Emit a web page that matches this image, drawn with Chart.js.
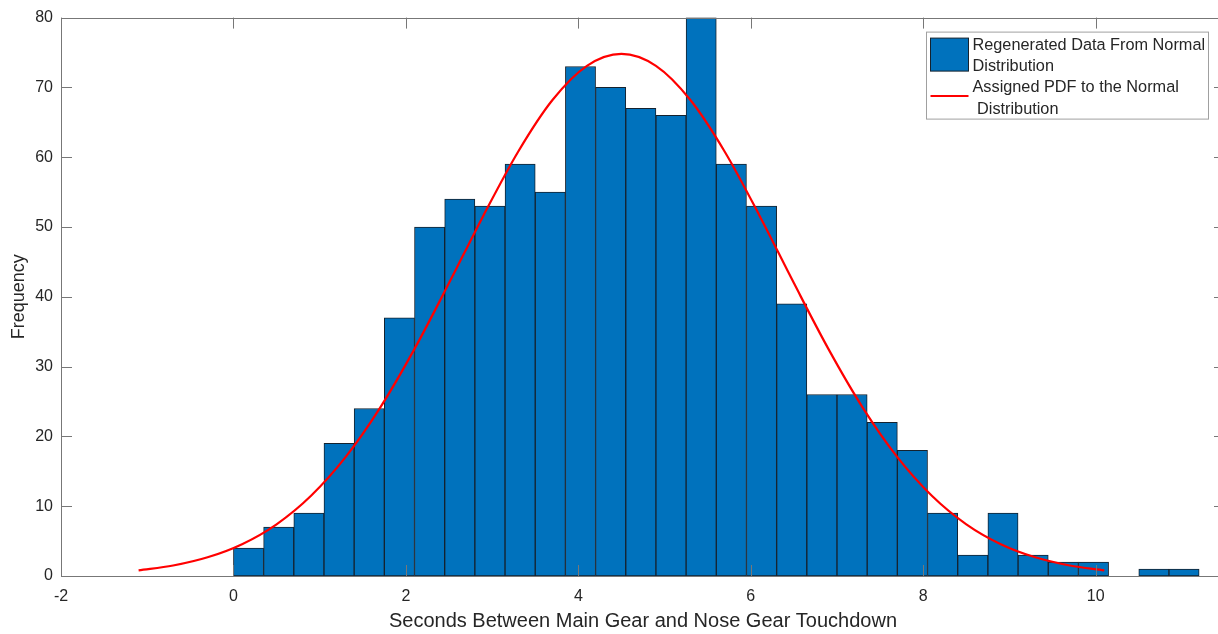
<!DOCTYPE html>
<html>
<head>
<meta charset="utf-8">
<script src="https://cdn.jsdelivr.net/npm/chart.js@4.4.1/dist/chart.umd.min.js"></script>
<style>
  html, body { margin: 0; padding: 0; background: #ffffff; overflow: hidden; }
  #wrap { width: 1240px; height: 634px; }
</style>
</head>
<body>
<div id="wrap"><canvas id="c"></canvas></div>
<script>
// Histogram of touchdown intervals (seconds), fixed-width bins starting at 0
const binStart = 0;
const binWidth = 0.35;
const binCounts = [4, 7, 9, 19, 24, 37, 50, 54, 53, 59, 55, 73, 70, 67, 66, 80,
                   59, 53, 39, 26, 26, 22, 18, 9, 3, 9, 3, 2, 2, 0, 1, 1];

// Fitted normal density, scaled to counts
const curveX = [-1.1, -0.7, -0.3, 0.1, 0.5, 0.9, 1.3, 1.7, 2.1, 2.5, 2.9, 3.3, 3.7, 4.1, 4.5,
                4.9, 5.3, 5.7, 6.1, 6.5, 6.9, 7.3, 7.7, 8.1, 8.5, 8.9, 9.3, 9.7, 10.1];
const curveY = [0.80, 1.50, 2.68, 4.56, 7.41, 11.50, 17.03, 24.09, 32.54, 41.96, 51.66, 60.75, 68.19, 73.09, 74.8,
                73.09, 68.19, 60.75, 51.66, 41.96, 32.54, 24.09, 17.03, 11.50, 7.41, 4.56, 2.68, 1.50, 0.80];

const xTicks = [-2, 0, 2, 4, 6, 8, 10];
const yTicks = [0, 10, 20, 30, 40, 50, 60, 70, 80];

const seriesLabels = [
  ['Regenerated Data From Normal', 'Distribution'],
  ['Assigned PDF to the Normal', ' Distribution']
];
const xTitle = 'Seconds Between Main Gear and Nose Gear Touchdown';
const yTitle = 'Frequency';

const barFill = '#0072BD';
const barEdge = '#15222e';
const curveColor = '#ff0000';
const textColor = '#262626';
const axisColor = '#777777';
const FONT = '"Liberation Sans", Arial, Helvetica, sans-serif';

const barPoints = [];
binCounts.forEach((n, i) => {
  if (n > 0) barPoints.push({ x: binStart + binWidth * (i + 0.5), y: n });
});
const curvePoints = curveX.map((x, i) => ({ x: x, y: curveY[i] }));

// Box around the plot with inward-pointing tick marks on all four sides
const boxTicks = {
  id: 'boxTicks',
  afterDatasetsDraw(chart) {
    const { ctx, chartArea: a, scales } = chart;
    const len = 11;
    ctx.save();
    ctx.strokeStyle = axisColor;
    ctx.lineWidth = 1;
    ctx.beginPath();
    xTicks.forEach(v => {
      const px = Math.round(scales.x.getPixelForValue(v)) + 0.5;
      ctx.moveTo(px, a.bottom); ctx.lineTo(px, a.bottom - len);
      ctx.moveTo(px, a.top); ctx.lineTo(px, a.top + len);
    });
    yTicks.forEach(v => {
      const py = Math.round(scales.y.getPixelForValue(v)) + 0.5;
      ctx.moveTo(a.left, py); ctx.lineTo(a.left + len, py);
      ctx.moveTo(a.right, py); ctx.lineTo(a.right - len, py);
    });
    ctx.stroke();
    ctx.strokeRect(Math.round(a.left) + 0.5, Math.round(a.top) + 0.5,
                   Math.round(a.right - a.left), Math.round(a.bottom - a.top));
    ctx.restore();
  }
};

// Legend box with two-line entries in the upper right corner
const boxLegend = {
  id: 'boxLegend',
  afterDraw(chart) {
    const { ctx, chartArea: a } = chart;
    const ds = chart.data.datasets;
    const bx = a.right - 298.5, by = a.top + 14.5, bw = 282, bh = 87;
    ctx.save();
    ctx.fillStyle = '#ffffff';
    ctx.fillRect(bx, by, bw, bh);
    ctx.strokeStyle = '#a0a0a0';
    ctx.lineWidth = 1;
    ctx.strokeRect(bx, by, bw, bh);

    // bar swatch
    ctx.fillStyle = ds[0].backgroundColor;
    ctx.fillRect(bx + 4, by + 6, 38, 33);
    ctx.strokeStyle = ds[0].borderColor;
    ctx.strokeRect(bx + 4, by + 6, 38, 33);

    // line swatch
    ctx.strokeStyle = ds[1].borderColor;
    ctx.lineWidth = 2;
    ctx.beginPath();
    ctx.moveTo(bx + 4, by + 64);
    ctx.lineTo(bx + 42, by + 64);
    ctx.stroke();

    ctx.fillStyle = textColor;
    ctx.font = '16.3px ' + FONT;
    ctx.textBaseline = 'alphabetic';
    ctx.textAlign = 'left';
    const tx = bx + 46;
    ctx.fillText(ds[0].label[0], tx, by + 18);
    ctx.fillText(ds[0].label[1], tx, by + 39);
    ctx.fillText(ds[1].label[0], tx, by + 60);
    ctx.fillText(ds[1].label[1], tx, by + 82);
    ctx.restore();
  }
};

new Chart(document.getElementById('c'), {
  type: 'bar',
  data: {
    datasets: [
      {
        type: 'bar',
        label: seriesLabels[0],
        data: barPoints,
        backgroundColor: barFill,
        borderColor: barEdge,
        borderWidth: 1,
        borderSkipped: false,
        barPercentage: 1.0,
        categoryPercentage: 1.0,
        order: 2
      },
      {
        type: 'line',
        label: seriesLabels[1],
        data: curvePoints,
        borderColor: curveColor,
        backgroundColor: curveColor,
        borderWidth: 2.2,
        pointRadius: 0,
        fill: false,
        cubicInterpolationMode: 'monotone',
        order: 1
      }
    ]
  },
  options: {
    responsive: true,
    maintainAspectRatio: false,
    animation: false,
    layout: { padding: { top: 16, right: 15, left: 0, bottom: 0 } },
    plugins: {
      legend: { display: false },
      tooltip: { enabled: false }
    },
    scales: {
      x: {
        type: 'linear',
        min: -2,
        max: 11.5,
        offset: false,
        grid: { display: false, drawTicks: false },
        border: { display: false },
        afterBuildTicks: s => { s.ticks = xTicks.map(v => ({ value: v })); },
        afterFit: s => { s.height = 58; },
        ticks: {
          color: textColor,
          padding: 11,
          maxRotation: 0,
          autoSkip: false,
          font: { family: FONT, size: 16 }
        },
        title: {
          display: true,
          text: xTitle,
          color: textColor,
          font: { family: FONT, size: 20 },
          padding: { top: 0, bottom: 1 }
        }
      },
      y: {
        min: 0,
        max: 80,
        grid: { display: false, drawTicks: false },
        border: { display: false },
        afterBuildTicks: s => { s.ticks = yTicks.map(v => ({ value: v })); },
        afterFit: s => { s.width = 61; },
        ticks: {
          color: textColor,
          padding: 8,
          autoSkip: false,
          font: { family: FONT, size: 16 }
        },
        title: {
          display: true,
          text: yTitle,
          color: textColor,
          font: { family: FONT, size: 18 },
          padding: { top: 8, bottom: 0 }
        }
      }
    }
  },
  plugins: [boxTicks, boxLegend]
});
</script>
</body>
</html>
